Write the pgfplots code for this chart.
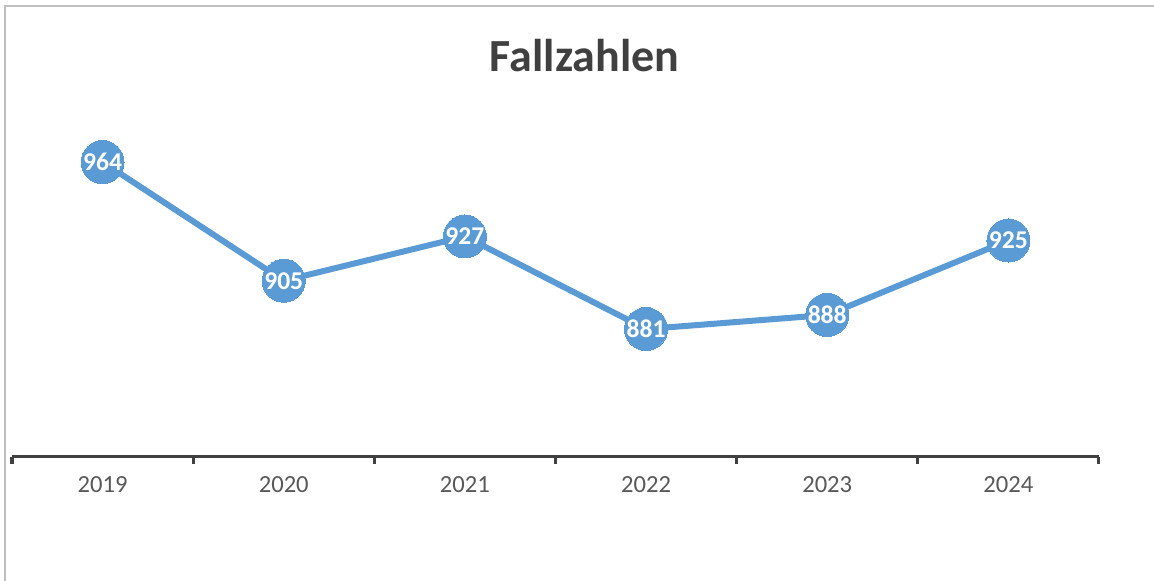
\documentclass[border=0pt]{standalone}
\usepackage{pgfplots}
\pgfplotsset{compat=1.18}
\usepackage{fontspec}
\setmainfont{Carlito}
\definecolor{lineblue}{HTML}{5B9BD5}
\definecolor{axisgray}{HTML}{404040}
\definecolor{labgray}{HTML}{595959}
\definecolor{bordergray}{HTML}{BFBFBF}
\begin{document}
\begin{tikzpicture}
\useasboundingbox (0,0) rectangle (1154bp,581bp);
\fill[white] (0,0) rectangle (1154bp,581bp);
\draw[bordergray, line width=2.5bp] (5bp,0) -- (5bp,575bp) -- (1154bp,575bp);
\node[anchor=base, text=axisgray, font=\fontsize{46bp}{50bp}\selectfont\bfseries] at (584.5bp,509bp) {Fallzahlen};
\begin{axis}[
  at={(12bp,124bp)}, anchor=south west,
  scale only axis,
  width=1087bp, height=367.4bp,
  xmin=-0.5, xmax=5.5,
  ymin=817.4, ymax=1000,
  hide y axis,
  axis x line*=bottom,
  x axis line style={-, color=axisgray, line width=3bp},
  xtick={0,1,2,3,4,5},
  xticklabels={2019,2020,2021,2022,2023,2024},
  major tick length=0pt,
  minor xtick={-0.5,0.5,1.5,2.5,3.5,4.5,5.5},
  minor tick length=7bp,
  tick align=outside,
  minor tick style={color=axisgray, line width=3bp},
  xticklabel style={text=labgray, font=\fontsize{24.6bp}{28bp}\selectfont, yshift=-16bp},
  /pgf/number format/assume math mode=true,
  clip=false,
  nodes near coords,
  every node near coord/.append style={anchor=center, text=white, font=\fontsize{25.6bp}{28bp}\selectfont\bfseries},
  nodes near coords align={center},
]
\addplot[color=lineblue, line width=6bp, mark=*, mark size=21.5bp, mark options={fill=lineblue, draw=lineblue, line width=0pt}]
coordinates {(0,964) (1,905) (2,927) (3,881) (4,888) (5,925)};
\end{axis}
\end{tikzpicture}
\end{document}
